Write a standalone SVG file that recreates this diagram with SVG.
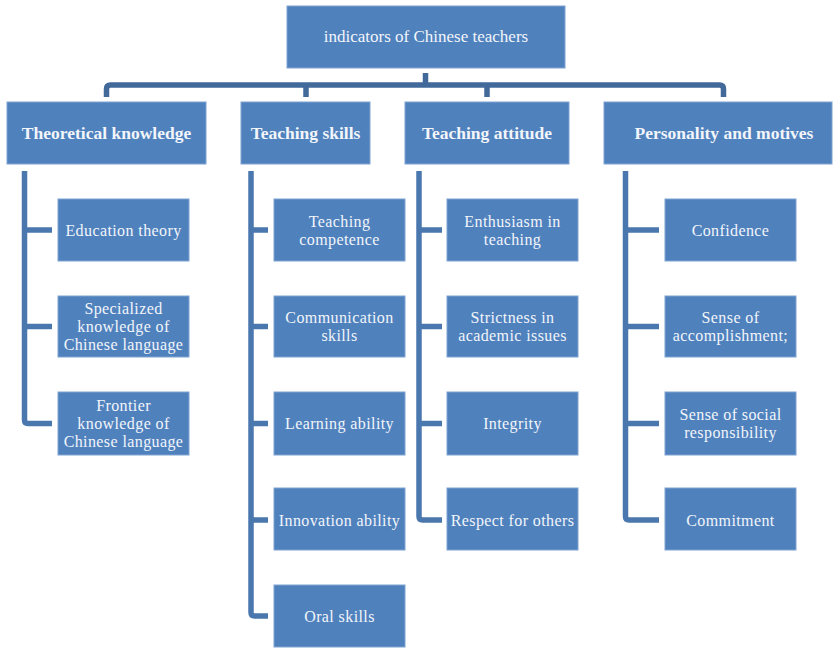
<svg xmlns="http://www.w3.org/2000/svg" width="833" height="650" viewBox="0 0 833 650">
<style>
.box{fill:#4f81bd;stroke:#7ea3d1;stroke-width:1}
.t{font-family:"Liberation Serif","DejaVu Serif",serif;font-size:16px;letter-spacing:0.4px;fill:#f2f5fa;text-anchor:middle}
.r{font-size:17px;letter-spacing:0}
.b{font-weight:bold;font-size:17.5px;letter-spacing:0}
.c{fill:none;stroke:#4a77ae;stroke-width:5.5;stroke-linejoin:round}
.top{stroke:#41699a}
</style>
<rect width="833" height="650" fill="#ffffff"/>
<g id="connectors">
<path class="c top" d="M106.5 97 V89 Q106.5 85 110.5 85 H719.5 Q723.5 85 723.5 89 V97"/>
<path class="c top" d="M425.5 73 V85 M306 85 V97 M487 85 V97"/>
<path class="c" d="M24.5 171 V420 Q24.5 423.5 28 423.5 H52 M24.5 230 H52 M24.5 326.5 H52"/>
<path class="c" d="M251 171 V612.5 Q251 616 254.5 616 H268 M251 230 H268 M251 326.5 H268 M251 423.5 H268 M251 520 H268"/>
<path class="c" d="M419 171 V516.5 Q419 520 422.5 520 H442 M419 230 H442 M419 326.5 H442 M419 423.5 H442"/>
<path class="c" d="M625.5 171 V516.5 Q625.5 520 629 520 H659 M625.5 230 H659 M625.5 326.5 H659 M625.5 423.5 H659"/>
</g>
<g id="root"><rect class="box" x="287" y="6" width="278" height="62"/><text class="t r" x="426" y="42">indicators of Chinese teachers</text></g>
<g id="theoretical"><rect class="box" x="7" y="102" width="199" height="62"/><text class="t b" x="106.5" y="139">Theoretical knowledge</text></g>
<g id="skills"><rect class="box" x="241" y="102" width="129" height="62"/><text class="t b" x="305.5" y="139">Teaching skills</text></g>
<g id="attitude"><rect class="box" x="405" y="102" width="164" height="62"/><text class="t b" x="487" y="139">Teaching attitude</text></g>
<g id="personality"><rect class="box" x="604" y="102" width="228" height="62"/><text class="t b" x="724" y="139">Personality and motives</text></g>

<g id="education-theory"><rect class="box" x="58" y="199" width="131" height="62"/><text class="t" x="123.5" y="235.5">Education theory</text></g>
<g id="specialized"><rect class="box" x="58" y="296" width="131" height="61"/><text class="t" x="123.5" y="314">Specialized</text><text class="t" x="123.5" y="332">knowledge of</text><text class="t" x="123.5" y="350">Chinese language</text></g>
<g id="frontier"><rect class="box" x="58" y="392" width="131" height="63"/><text class="t" x="123.5" y="411">Frontier</text><text class="t" x="123.5" y="429">knowledge of</text><text class="t" x="123.5" y="447">Chinese language</text></g>

<g id="teaching-competence"><rect class="box" x="274" y="199" width="131" height="62"/><text class="t" x="339.5" y="226.5">Teaching</text><text class="t" x="339.5" y="244.5">competence</text></g>
<g id="communication"><rect class="box" x="274" y="296" width="131" height="61"/><text class="t" x="339.5" y="323">Communication</text><text class="t" x="339.5" y="341">skills</text></g>
<g id="learning"><rect class="box" x="274" y="392" width="131" height="63"/><text class="t" x="339.5" y="429">Learning ability</text></g>
<g id="innovation"><rect class="box" x="274" y="488" width="131" height="62"/><text class="t" x="339.5" y="525.5">Innovation ability</text></g>
<g id="oral"><rect class="box" x="274" y="585" width="131" height="62"/><text class="t" x="339.5" y="622">Oral skills</text></g>

<g id="enthusiasm"><rect class="box" x="447" y="199" width="131" height="62"/><text class="t" x="512.5" y="226.5">Enthusiasm in</text><text class="t" x="512.5" y="244.5">teaching</text></g>
<g id="strictness"><rect class="box" x="447" y="296" width="131" height="61"/><text class="t" x="512.5" y="323">Strictness in</text><text class="t" x="512.5" y="341">academic issues</text></g>
<g id="integrity"><rect class="box" x="447" y="392" width="131" height="63"/><text class="t" x="512.5" y="429">Integrity</text></g>
<g id="respect"><rect class="box" x="447" y="488" width="131" height="62"/><text class="t" x="512.5" y="525.5">Respect for others</text></g>

<g id="confidence"><rect class="box" x="665" y="199" width="131" height="62"/><text class="t" x="730.5" y="235.5">Confidence</text></g>
<g id="accomplishment"><rect class="box" x="665" y="296" width="131" height="61"/><text class="t" x="730.5" y="323">Sense of</text><text class="t" x="730.5" y="341">accomplishment;</text></g>
<g id="social"><rect class="box" x="665" y="392" width="131" height="63"/><text class="t" x="730.5" y="420">Sense of social</text><text class="t" x="730.5" y="438">responsibility</text></g>
<g id="commitment"><rect class="box" x="665" y="488" width="131" height="62"/><text class="t" x="730.5" y="525.5">Commitment</text></g>
</svg>
